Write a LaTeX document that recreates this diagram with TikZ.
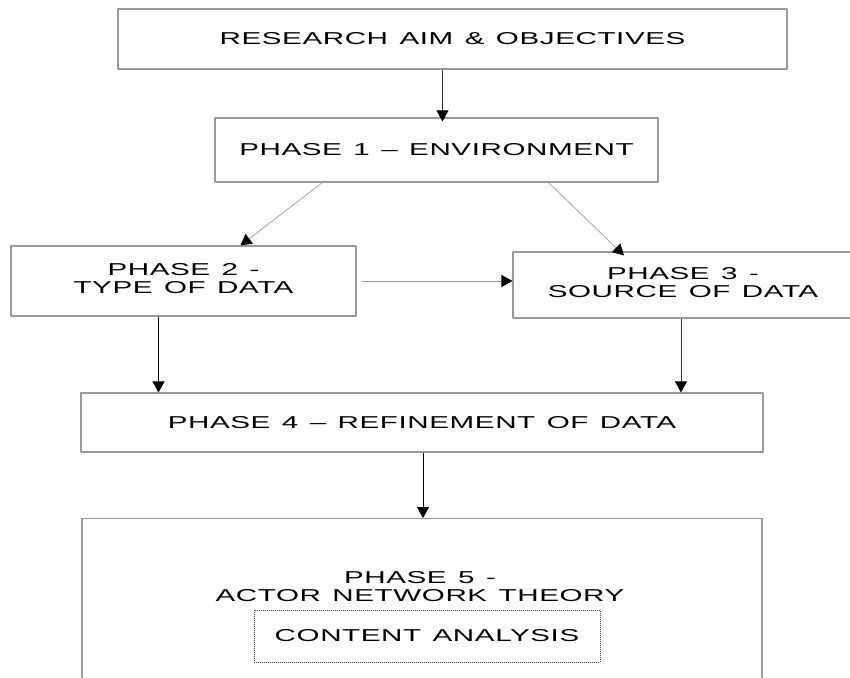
\documentclass[tikz,border=0pt]{standalone}
\usepackage{fontspec}
\setmainfont{Liberation Sans}[WordSpace=1.3, LetterSpace=2]
\usepackage{graphicx}
\usetikzlibrary{arrows.meta}
\newcommand{\wide}[1]{\scalebox{1.72}[1]{#1}}
\tikzset{
  box/.style={draw=gray!80, line width=1.1pt, align=center, inner sep=0pt},
  dotbox/.style={draw=black!70, line width=0.6pt, dash pattern=on 1pt off 1pt, inner sep=0pt},
  lnk/.style={->, line width=0.8pt},
}
\begin{document}
\begin{tikzpicture}[x=1pt, y=-1pt, >={Triangle[length=11pt,width=12pt,color=black]},
  font=\fontsize{17.2pt}{18.5pt}\selectfont, line join=round]
  \useasboundingbox (0,0) rectangle (850,677);
  \clip (0,0) rectangle (850,677);
  % boxes
  \node[box, minimum width=669pt, minimum height=60pt] (aim) at (452.5,39) {\wide{RESEARCH AIM \& OBJECTIVES}};
  \node[box, minimum width=443pt, minimum height=64pt] (p1) at (436.5,150) {\wide{PHASE 1 -- ENVIRONMENT}};
  \node[box, minimum width=345pt, minimum height=70pt] (p2) at (183.5,281) {\wide{\begin{tabular}{@{}c@{}}PHASE 2 -\\TYPE OF DATA\end{tabular}}};
  \node[box, minimum width=340pt, minimum height=66pt] (p3) at (683,285) {\wide{\begin{tabular}{@{}c@{}}PHASE 3 -\\SOURCE OF DATA\end{tabular}}};
  \node[box, minimum width=682pt, minimum height=59pt] (p4) at (422,422.5) {\wide{PHASE 4 -- REFINEMENT OF DATA}};
  \node[box, minimum width=680pt, minimum height=200pt, anchor=north] (p5) at (422,518) {};
  \node[align=center, inner sep=0pt] (p5t) at (420,589) {\wide{\begin{tabular}{@{}c@{}}PHASE 5 -\\ACTOR NETWORK THEORY\end{tabular}}};
  \node[dotbox, minimum width=346pt, minimum height=52pt] (ca) at (427,636) {\wide{CONTENT ANALYSIS}};
  % links
  \draw[lnk, draw=black!80] ([xshift=-10pt]aim.south) -- ([xshift=-10pt,yshift=-4pt]aim.south |- p1.north);
  \draw[lnk, draw=gray!70] ([xshift=108pt]p1.south west) -- ([xshift=57pt]p2.north);
  \draw[lnk, draw=gray!70] ([xshift=-110pt]p1.south east) -- ([xshift=-59pt,yshift=-4pt]p3.north);
  \draw[lnk, draw=gray!80] ([xshift=5pt]p2.east) -- (p3.west |- p2.east);
  \draw[lnk, draw=black] ([xshift=-25pt]p2.south) -- ([xshift=-25pt]p2.south |- p4.north);
  \draw[lnk, draw=black!80] ([xshift=-2pt]p3.south) -- ([xshift=-2pt]p3.south |- p4.north);
  \draw[lnk, draw=black] ([xshift=1pt]p4.south) -- ([xshift=1pt]p4.south |- p5.north);
\end{tikzpicture}
\end{document}
